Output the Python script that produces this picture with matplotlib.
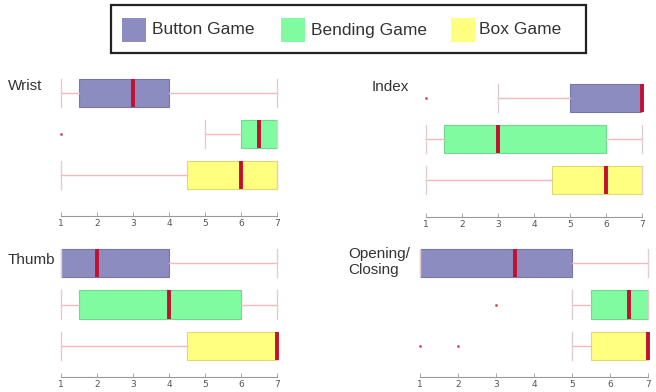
import matplotlib
matplotlib.use("Agg")
import matplotlib.pyplot as plt
from matplotlib.patches import Rectangle

plt.rcParams['font.family'] = ['Liberation Sans', 'DejaVu Sans']

games = ['Button Game', 'Bending Game', 'Box Game']
game_colors = ['#8c8cc0', '#80fba0', '#ffff80']
edge_colors = ['#7878a8', '#70d890', '#e0d870']

# per-joint summaries, one entry per game (button, bending, box)
wrist_q1 = [1.5, 6.0, 4.5]
wrist_med = [3.0, 6.5, 6.0]
wrist_q3 = [4.0, 7.0, 7.0]
wrist_lo = [1, 5, 1]
wrist_hi = [7, 7, 7]
wrist_out = [[], [1], []]

index_q1 = [5.0, 1.5, 4.5]
index_med = [7.0, 3.0, 6.0]
index_q3 = [7.0, 6.0, 7.0]
index_lo = [3, 1, 1]
index_hi = [7, 7, 7]
index_out = [[1], [], []]

thumb_q1 = [1.0, 1.5, 4.5]
thumb_med = [2.0, 4.0, 7.0]
thumb_q3 = [4.0, 6.0, 7.0]
thumb_lo = [1, 1, 1]
thumb_hi = [7, 7, 7]
thumb_out = [[], [], []]

open_q1 = [1.0, 5.5, 5.5]
open_med = [3.5, 6.5, 7.0]
open_q3 = [5.0, 7.0, 7.0]
open_lo = [1, 5, 5]
open_hi = [7, 7, 7]
open_out = [[], [3], [1, 2]]

ticks = [1, 2, 3, 4, 5, 6, 7]

W, H = 656, 392
fig = plt.figure(figsize=(W / 100, H / 100), dpi=100)


def fx(px):
    return px / W


def fy(py):
    return (H - py) / H


def panel(name, x1, x7, row0, step, axis_y, label_xy, q1, med, q3, lo, hi, out):
    u = (x7 - x1) / 6.0
    left = x1 - 0.1 * u
    top = row0 - 0.5 * step
    ax = fig.add_axes([fx(left), fy(axis_y), 6.2 * u / W, (axis_y - top) / H])
    stats = []
    for i in range(3):
        stats.append(dict(q1=q1[i], med=med[i], q3=q3[i],
                          whislo=lo[i], whishi=hi[i], fliers=out[i]))
    bp = ax.bxp(stats, positions=[0, 1, 2], widths=0.68, capwidths=0.68,
                orientation='horizontal', patch_artist=True, showfliers=True,
                medianprops=dict(color='#c41030', linewidth=2.8, solid_capstyle='butt'),
                whiskerprops=dict(color='#f2b8bc', linewidth=1.0),
                capprops=dict(color='#e2cdd0', linewidth=1.0),
                flierprops=dict(marker='o', markersize=2.0, markerfacecolor='#d04a60',
                                markeredgecolor='none'))
    for patch, fc, ec in zip(bp['boxes'], game_colors, edge_colors):
        patch.set_facecolor(fc)
        patch.set_edgecolor(ec)
        patch.set_linewidth(0.8)
    ax.set_xlim(0.9, 7.1)
    ax.set_ylim((axis_y - row0) / step, -0.5)
    ax.set_yticks([])
    ax.set_xticks(ticks)
    ax.set_xticklabels([str(t) for t in ticks], fontsize=6.5, color='#555555',
                       family='DejaVu Sans')
    ax.tick_params(axis='x', direction='in', length=3, width=0.6, color='#999999', pad=2)
    for s in ['left', 'right', 'top']:
        ax.spines[s].set_visible(False)
    ax.spines['bottom'].set_color('#999999')
    ax.spines['bottom'].set_linewidth(0.8)
    ax.spines['bottom'].set_bounds(1, 7)
    ax.set_facecolor('none')
    fig.text(fx(label_xy[0]), fy(label_xy[1]), name, fontsize=11, color='#333333',
             ha='left', va='center', linespacing=1.1)
    return ax


panel('Wrist', 61, 277, 93, 41, 216, (8, 86),
      wrist_q1, wrist_med, wrist_q3, wrist_lo, wrist_hi, wrist_out)
panel('Index', 426, 642, 98, 41, 217, (372, 87),
      index_q1, index_med, index_q3, index_lo, index_hi, index_out)
panel('Thumb', 61, 277, 263, 41.5, 377, (8, 260),
      thumb_q1, thumb_med, thumb_q3, thumb_lo, thumb_hi, thumb_out)
panel('Opening/\nClosing', 420, 648, 263, 41.5, 377, (348, 262),
      open_q1, open_med, open_q3, open_lo, open_hi, open_out)

# legend box drawn in figure pixels
fig.patches.append(Rectangle((fx(111), fy(53)), fx(586) - fx(111), fy(5) - fy(53),
                             transform=fig.transFigure, facecolor='white',
                             edgecolor='#222222', linewidth=1.6))
swatch_x = [122, 281, 451]
text_x = [152, 311, 479]
for sx, tx, fc, lab in zip(swatch_x, text_x, game_colors, games):
    fig.patches.append(Rectangle((fx(sx), fy(42)), 24 / W, 24 / H,
                                 transform=fig.transFigure, facecolor=fc,
                                 edgecolor='none'))
    fig.text(fx(tx), fy(30), lab, fontsize=12.5, color='#333333', ha='left', va='center')

fig.savefig('out.png', dpi=100)
